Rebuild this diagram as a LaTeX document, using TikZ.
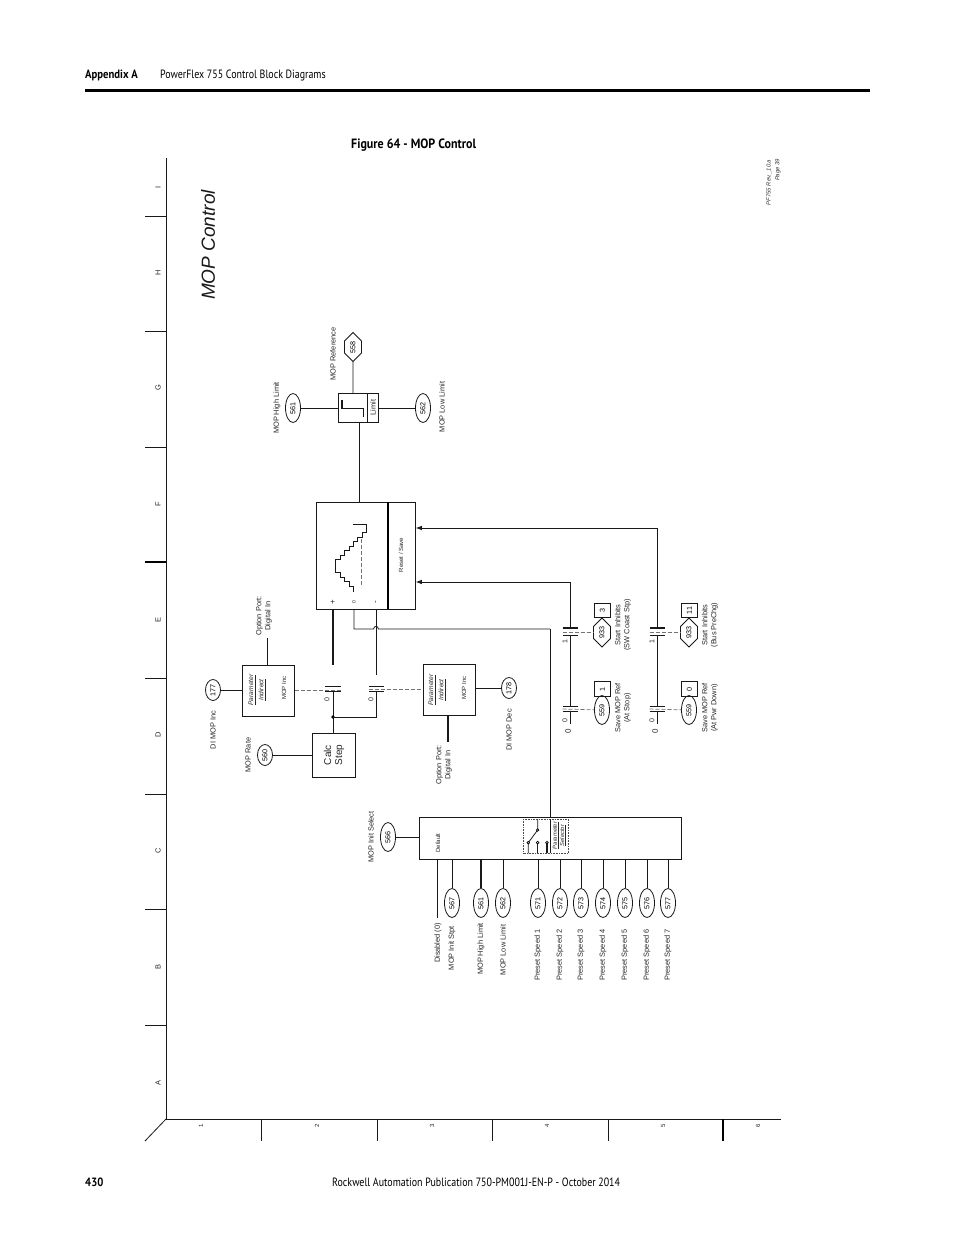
\documentclass[tikz,border=0pt]{standalone}
\usepackage{fontspec}
\setmainfont{Liberation Sans}
\newfontfamily\hdr[FakeStretch=0.83]{PT Sans}
\newfontfamily\hdrb[FakeStretch=0.89]{PT Sans}
\usetikzlibrary{shapes.geometric,shapes.misc,arrows.meta}
\newcommand{\fs}[1]{\fontsize{#1}{#1}\selectfont}
\newcommand{\rt}[1]{\rotatebox{90}{#1}}
\tikzset{
  wire/.style={line width=0.8pt,black!90},
  heavy/.style={line width=1.7pt,black!90},
  ctl/.style={line width=0.7pt,black!55,dash pattern=on 4pt off 2pt},
  grid/.style={line width=0.8pt,black!90},
  plate/.style={line width=0.8pt,black!90},
  blk/.style={draw=black!90,line width=0.8pt,inner sep=0pt,anchor=north west},
  pill/.style={ellipse,draw=black!90,line width=0.8pt,inner sep=0pt,minimum width=15pt,minimum height=29pt,font=\fs{7.2}},
  hexa/.style={chamfered rectangle,chamfered rectangle xsep=7.4pt,chamfered rectangle ysep=7pt,draw=black!90,line width=0.8pt,inner sep=0pt,minimum width=15pt,minimum height=29pt,font=\fs{7.2}},
  tag/.style={draw=black!90,line width=0.8pt,inner sep=0pt,minimum width=16pt,minimum height=14.5pt,font=\fs{7.2}},
  lab/.style={rotate=90,inner sep=0pt,font=\fs{7.4},text=black!85,align=center},
  tiny/.style={rotate=90,inner sep=0pt,font=\fs{6},text=black!85,align=center},
  par/.style={rotate=90,inner sep=0pt,font=\fs{6.6}\itshape,text=black!85},
  arr/.style={-{Latex[length=6pt,width=4.5pt]}},
  hd/.style={inner sep=0pt,font=\hdr\fs{12},text=black}
}
\begin{document}
\begin{tikzpicture}[x=1pt,y=-1pt]
\useasboundingbox (0,0) rectangle (954,1235);
\fill[white] (0,0) rectangle (954,1235);
% page header and footer
\node[hd,anchor=west,font=\hdrb\bfseries\fs{12}] (happ) at (85,75) {Appendix A};
\node[hd,anchor=west] (htitle) at (160,75) {PowerFlex 755 Control Block Diagrams};
\draw[line width=2.5pt] (85,90.5) -- (870,90.5);
\node[hd,anchor=west,font=\hdrb\bfseries\fs{13.5}] (figt) at (351,145) {Figure 64 - MOP Control};
\node[hd,anchor=west,font=\hdrb\bfseries\fs{12}] (pgn) at (85,1182) {430};
\node[hd,anchor=west] (foot) at (332,1182) {Rockwell Automation Publication 750-PM001J-EN-P - October 2014};
% frame
\draw[grid] (166,158) -- (166,1119) -- (781,1119);
\draw[grid] (166,1119) -- (145,1141);
\foreach \y in {216,331,447,678,794,909,1025} \draw[grid] (145,\y) -- (166,\y);
\draw[line width=1.3pt] (145,562) -- (166,562);
\foreach \x in {261,377,492,608} \draw[grid] (\x,1119) -- (\x,1141);
\draw[line width=1.3pt] (723,1119) -- (723,1141);
\foreach \t/\y in {I/187,H/273,G/388,F/504,E/620,D/735,C/851,B/967,A/1083}
  \node[lab] (row\t) at (158,\y) {\t};
\foreach \t/\x in {1/201,2/317,3/432,4/547,5/663,6/758}
  \node[tiny] (col\t) at (\x,1126) {\t};
\node[rotate=90,inner sep=0pt,font=\fs{19}\itshape,text=black!90] (ttl) at (208,245) {MOP Control};
\node[rotate=90,inner sep=0pt,font=\fs{5.9}\itshape,text=black!80] (rev) at (769,182.5) {PF755 Rev.\_10.a};
\node[rotate=90,inner sep=0pt,font=\fs{5.9}\itshape,text=black!80] (pg) at (778,170) {Page 39};
% limit block
\node[blk,minimum width=40pt,minimum height=29pt] (lim) at (338,393) {};
\draw[wire] (367,393) -- (367,422);
\node[lab] (limt) at (373,407.5) {Limit};
\draw[heavy] (342,400) -- (342,408.5);
\draw[wire] (342,408.5) -- (363,408.5) -- (363,417);
\node[hexa] (p558) at (353,347) {\rt{558}};
\node[lab] (l558) at (333,354) {MOP Reference};
\draw[wire] (p558) -- (p558 |- lim.north);
\node[pill] (a561) at (293,408) {\rt{561}};
\node[lab] (la561) at (277,408) {MOP High Limit};
\draw[wire] (a561) -- (lim.west |- a561);
\node[pill] (a562) at (423,408) {\rt{562}};
\node[lab] (la562) at (442,407) {MOP Low Limit};
\draw[wire] (lim.east |- a562) -- (a562);
% MOP block
\node[blk,minimum width=99pt,minimum height=107pt] (mop) at (316,502) {};
\draw[line width=1.5pt] (388,502) -- (388,609);
\node[tiny] (rs) at (401,555) {Reset / Save};
\draw[wire] (lim.south -| 359,0) -- (mop.north -| 359,0);
\begin{scope}[shift={(200,480)},x=0.3333pt,y=-0.3333pt]
\draw[wire] (460,132) -- (500,132) -- (500,157) -- (488,157) -- (488,172) -- (473,172) -- (473,185) -- (460,185) -- (460,198) -- (447,198) -- (447,212) -- (434,212) -- (434,225) -- (420,225) -- (420,238) -- (406,238) -- (406,278) -- (420,278) -- (420,291) -- (434,291) -- (434,305) -- (447,305) -- (447,318) -- (460,318) -- (460,335);
\draw[ctl] (483,178) -- (483,318);
\end{scope}
\node[lab,font=\fs{8}] (mplus) at (333,602) {+};
\node[tiny,font=\fs{5}] (mzero) at (354,602) {0};
\node[lab,font=\fs{8}] (mminus) at (376.5,602) {-};
% contacts inc/dec
\coordinate (plusT) at (333,665);
\coordinate (c1a) at (333,686);
\coordinate (c1b) at (333,691.5);
\coordinate (c2a) at (376,686);
\coordinate (c2b) at (376,691.5);
\coordinate (minT) at (376,675);
\coordinate (jn) at (333,717);
\draw[heavy] (c1a |- mop.south) -- (plusT);
\draw[wire] (c2a |- mop.south) -- (minT);
\draw[plate] (325,686) -- (341,686) (325,691.5) -- (341,691.5);
\draw[plate] (369,686) -- (384,686) (369,691.5) -- (384,691.5);
\node[tiny,font=\fs{7}] (z1) at (327,700) {0};
\node[tiny,font=\fs{7}] (z2) at (371,700) {0};
% calc step
\node[blk,minimum width=43pt,minimum height=44pt] (calc) at (312,733) {};
\node[rotate=90,inner sep=0pt,font=\fs{10},text=black!85,align=center] (calct) at (334,755) {Calc\\[1pt]Step};
\draw[wire] (c1b) -- (c1b |- calc.north);
\fill[black] (jn) circle (1.8pt);
\draw[wire] (jn) -- (c2b |- jn) -- (c2b);
\node[pill,minimum height=21pt] (p560) at (265,755) {\rt{560}};
\node[lab] (l560) at (248,755) {MOP Rate};
\draw[wire] (p560) -- (calc.west |- p560);
% parameter indirect boxes
\node[blk,minimum width=52pt,minimum height=51pt] (pi1) at (242,665) {};
\node[par] (pi1a) at (252,690) {\underline{Parameter}};
\node[par] (pi1b) at (262,690) {\underline{Indirect}};
\node[tiny] (pi1c) at (284,688) {MOP Inc};
\node[pill,minimum height=21pt] (p177) at (213,690) {\rt{177}};
\node[lab] (l177) at (213,730) {DI MOP Inc};
\draw[wire] (p177) -- (pi1.west |- p177);
\node[lab] (opt1) at (264,616) {Option Port:\\[1.5pt]Digital In};
\coordinate (opt1e) at (267,638);
\draw[wire] (opt1e) -- (opt1e |- pi1.north);
\draw[ctl] (pi1.east |- 0,690) -- (341,690);
\node[blk,minimum width=52pt,minimum height=51pt] (pi2) at (423,664) {};
\node[par] (pi2a) at (432,690) {\underline{Parameter}};
\node[par] (pi2b) at (442,690) {\underline{Indirect}};
\node[tiny] (pi2c) at (464,688) {MOP Inc};
\node[pill,minimum height=21pt] (p178) at (509,688) {\rt{178}};
\node[lab] (l178) at (509,730) {DI MOP Dec};
\draw[wire] (pi2.east |- p178) -- (p178);
\node[lab] (opt2) at (444,765) {Option Port:\\[1.5pt]Digital In};
\coordinate (opt2e) at (448,742);
\draw[heavy] (opt2e |- pi2.south) -- (opt2e);
\draw[ctl] (369,689.5) -- (pi2.west |- 0,689.5);
% zero-speed line with jump
\coordinate (zs) at (354,629);
\coordinate (zc) at (550,629);
\draw[wire] (zs |- mop.south) -- (zs) -- (373.5,629) .. controls (374,625.5) and (378,625.5) .. (378.5,629) -- (zc);
% selector block
\node[blk,minimum width=262pt,minimum height=42pt] (sel) at (419,817) {};
\draw[wire] (zc) -- (zc |- sel.north);
\node[tiny] (dflt) at (438,843) {Default};
\node[pill] (p566) at (388,837) {\rt{566}};
\node[lab] (l566) at (371,837) {MOP Init Select};
\draw[wire] (p566) -- (sel.west |- p566);
\draw[densely dotted,line width=0.6pt,black!70] (523,819) rectangle (568,853.5);
\begin{scope}[shift={(360,790)},x=0.3333pt,y=-0.3333pt]
\draw[wire] (533,88) -- (533,120) -- (505,158) -- (505,190);
\draw[wire] (533,158) -- (533,190);
\draw[line width=1.3pt,black!90] (561,158) -- (561,190);
\draw[line width=1.5pt,black!90] (572,88) -- (572,190);
\foreach \q in {(533,120),(505,158),(533,158),(561,158)} \filldraw[fill=white,draw=black,line width=0.7pt] \q circle (4);
\end{scope}
\node[par,font=\fs{5.8}\itshape] (ps1) at (556,835.5) {\underline{Parameter}};
\node[par,font=\fs{5.8}\itshape] (ps2) at (563,835.5) {\underline{Selector}};
\coordinate (dise) at (437,918);
\draw[wire] (dise |- sel.south) -- (dise);
\node[lab] (ldis) at (438,943) {Disabled (0)};
\foreach \n/\x/\t/\yy in {567/452/MOP Init Stpt/948,562/503/MOP Low Limit/950,571/538/Preset Speed 1/955,572/560/Preset Speed 2/955,573/581/Preset Speed 3/955,574/603/Preset Speed 4/955,575/625/Preset Speed 5/955,576/647/Preset Speed 6/955,577/668/Preset Speed 7/955}{
  \node[pill] (s\n) at (\x,903) {\rt{\n}};
  \draw[wire] (s\n |- sel.south) -- (s\n);
  \node[lab] (ls\n) at (\x,\yy) {\t};
}
\node[pill] (s561) at (481,903) {\rt{561}};
\draw[heavy] (s561 |- sel.south) -- (s561);
\node[lab] (ls561) at (481,949) {MOP High Limit};
% right-hand contacts
\coordinate (k1) at (570,582);
\coordinate (k2) at (657,528);
\draw[wire,arr] (k1 |- 0,628) -- (k1) -- (mop.east |- k1);
\draw[wire,arr] (k2 |- 0,628) -- (k2) -- (mop.east |- k2);
\foreach \c/\x/\l/\ll/\ta/\tb/\ba/\bb in {a/570/Start Inhibits/(SW Coast Stp)/Save MOP Ref/(At Stop)/3/1,b/657/Start Inhibits/(Bus PreChg)/Save MOP Ref/(At Pwr Down)/11/0}{
  \draw[line width=1.6pt,black!90] (\x-7.5,628) -- (\x+7.5,628);
  \draw[plate] (\x-7.5,635) -- (\x+7.5,635);
  \draw[plate] (\x-7.5,706) -- (\x+7.5,706) (\x-7.5,711) -- (\x+7.5,711);
  \draw[wire] (\x,635) -- (\x,706) (\x,711) -- (\x,724);
  \node[tiny,font=\fs{7}] (one\c) at (\x-5,642) {1};
  \node[tiny,font=\fs{7}] (zer\c) at (\x-5,721) {0};
  \node[lab,font=\fs{8}] (zbig\c) at (\x-2,731) {0};
  \node[hexa] (h\c) at (\x+32,632.5) {\rt{933}};
  \node[pill] (e\c) at (\x+32,710) {\rt{559}};
  \node[tag] (tu\c) at (\x+32.5,610.5) {\rt{\ba}};
  \node[tag] (tl\c) at (\x+32.5,689) {\rt{\bb}};
  \draw[ctl] (\x-7.5,632) -- (h\c.west |- 0,632);
  \draw[ctl] (\x-7.5,709) -- (e\c);
  \node[lab] (lu\c) at (\x+53,625) {\l\\[1.5pt]\ll};
  \node[lab] (ll\c) at (\x+53,708) {\ta\\[1.5pt]\tb};
}
\end{tikzpicture}
\end{document}
